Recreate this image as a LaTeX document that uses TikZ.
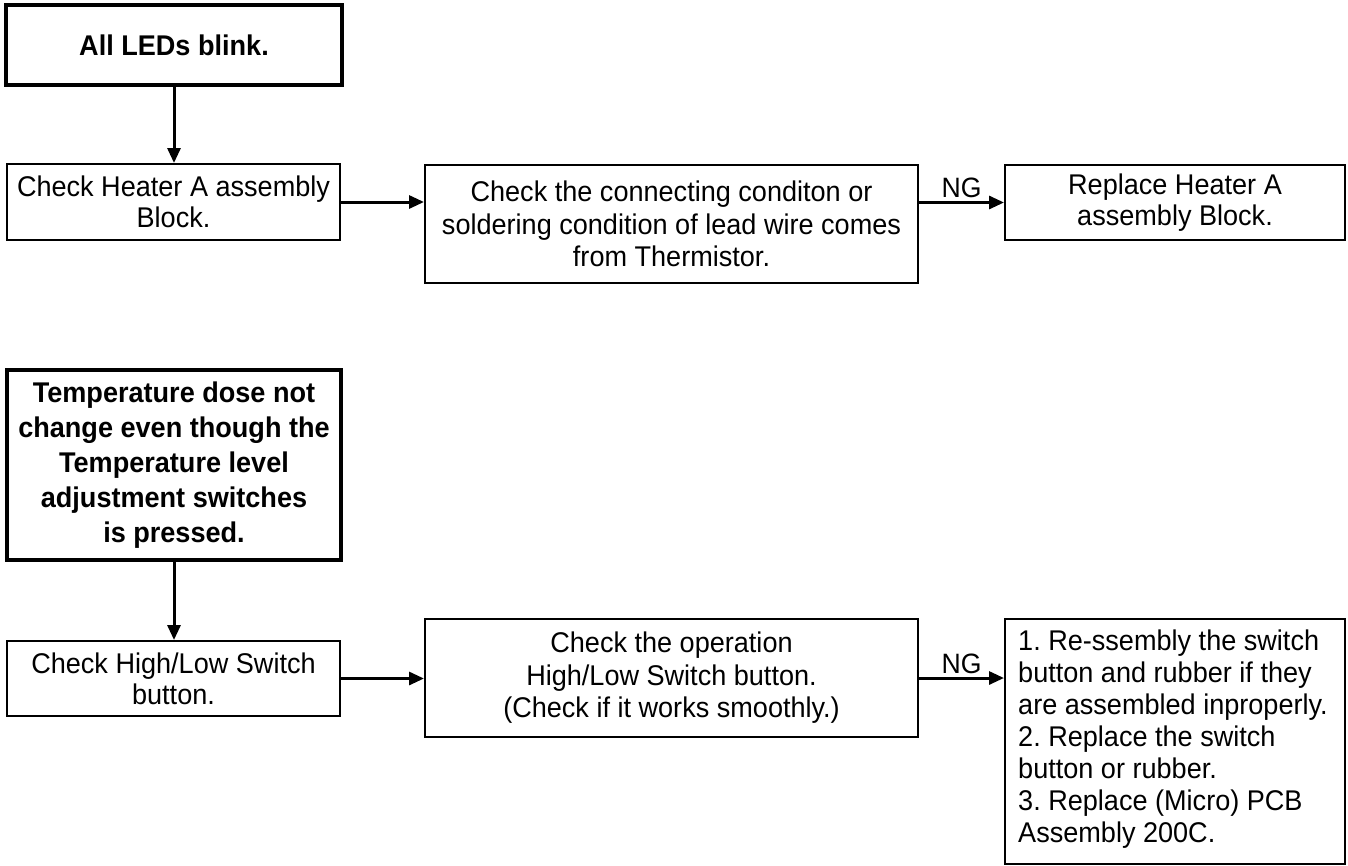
\documentclass[tikz,border=0pt]{standalone}
\usepackage{fontspec}
\setmainfont{Liberation Sans}[FakeStretch=0.95]
\usetikzlibrary{arrows.meta}
\begin{document}
\frenchspacing
\begin{tikzpicture}[x=1pt,y=-1pt,
  box/.style={draw, line width=2pt, rectangle, inner sep=0pt, align=center, font=\fontsize{28.5}{31}\selectfont},
  bigbox/.style={box, line width=4.5pt, font=\fontsize{28.5}{35}\selectfont\bfseries},
  arr/.style={line width=3pt, -{Triangle[length=15pt,width=13pt]}},
  lbl/.style={font=\fontsize{28}{30}\selectfont, inner sep=3pt},
  listtext/.style={anchor=north west, align=left, inner sep=0pt, font=\fontsize{28.5}{32}\selectfont}]
\useasboundingbox (0,0) rectangle (1348,865);
\node[bigbox, minimum width=336pt, minimum height=80pt] (b1) at (174,45) {All LEDs blink.};
\node[box, minimum width=333pt, minimum height=76pt] (b2) at (173.5,202) {Check Heater A assembly\\Block.};
\node[box, minimum width=493pt, minimum height=118pt, font=\fontsize{28.5}{32.5}\selectfont] (b3) at (671.5,224) {Check the connecting conditon or\\soldering condition of lead wire comes\\from Thermistor.};
\node[box, minimum width=340pt, minimum height=75pt] (b4) at (1175,202.5) {Replace Heater A\\assembly Block.};
\node[bigbox, minimum width=334pt, minimum height=190pt] (b5) at (174,465) {Temperature dose not\\change even though the\\Temperature level\\adjustment switches\\is pressed.};
\node[box, minimum width=333pt, minimum height=75pt] (b6) at (173.5,678.5) {Check High/Low Switch\\button.};
\node[box, minimum width=493pt, minimum height=118pt, font=\fontsize{28.5}{32.5}\selectfont] (b7) at (671.5,678) {Check the operation\\High/Low Switch button.\\(Check if it works smoothly.)};
\node[box, minimum width=340pt, minimum height=245pt] (b8) at (1175,741.5) {};
\node[listtext] (t8) at ([xshift=14pt,yshift=-12pt]b8.north west) {1. Re-ssembly the switch\\button and rubber if they\\are assembled inproperly.\\2. Replace the switch\\button or rubber.\\3. Replace (Micro) PCB\\Assembly 200C.};
\draw[arr] (b1.south) -- (b1.south |- b2.north);
\draw[arr] (b2.east) -- (b2.east -| b3.west);
\draw[arr] (b4.west -| b3.east) -- node[above, lbl] (ng1) {NG} (b4.west);
\draw[arr] (b5.south) -- (b5.south |- b6.north);
\draw[arr] (b6.east) -- (b6.east -| b7.west);
\draw[arr] (b7.east) -- node[above, lbl] (ng2) {NG} (b7.east -| b8.west);
\end{tikzpicture}
\end{document}
